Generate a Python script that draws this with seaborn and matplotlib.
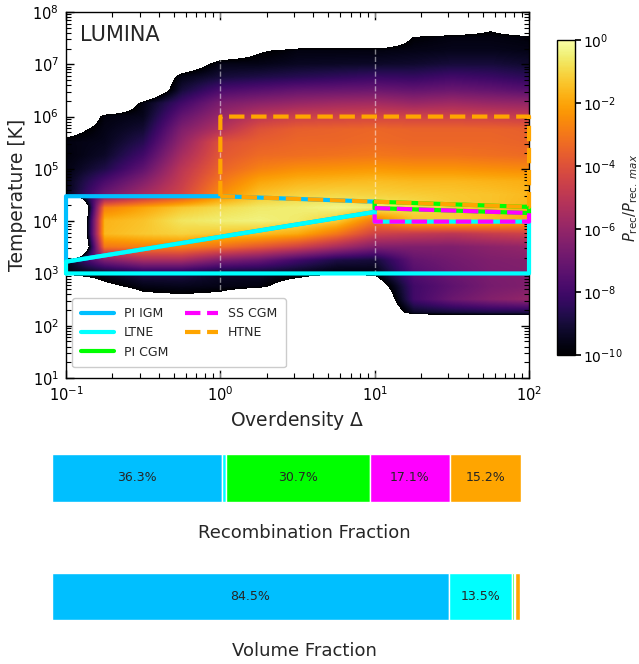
import numpy as np
import matplotlib
matplotlib.use("Agg")
import matplotlib.pyplot as plt
import seaborn as sns

# ---- data ----
E = -12.0  # empty bin (drawn white)

log_delta = [-1.0, -0.75, -0.5, -0.25, 0.0, 0.25, 0.5, 0.75, 1.0, 1.25, 1.5, 1.75, 2.0]
log_temp = [7.75, 7.5, 7.25, 7.0, 6.75, 6.5, 6.25, 6.0, 5.75, 5.5, 5.25, 5.0,
            4.75, 4.5, 4.25, 4.0, 3.75, 3.5, 3.25, 3.0, 2.75, 2.5, 2.25, 2.0]

# log10(P_rec / P_rec,max), rows = log_temp (top -> bottom), cols = log_delta
log_prec = [
    [E, E, E, E, E, E, E, E, E, -11.5, -11.3, -10.3, -11.5],
    [E, E, E, E, E, E, -11.5, -11.5, -11.5, -9.9, -9.7, -9.7, -9.8],
    [E, E, E, E, -11.0, -10.1, -9.7, -9.7, -9.7, -9.6, -9.5, -9.5, -9.6],
    [E, E, E, -11.0, -9.6, -9.6, -9.4, -9.35, -9.3, -9.2, -9.0, -9.0, -9.2],
    [E, E, E, -9.6, -9.0, -8.8, -8.6, -8.4, -8.2, -8.3, -8.0, -8.2, -8.5],
    [E, E, E, -9.0, -7.8, -7.5, -7.2, -7.1, -7.0, -7.2, -7.0, -7.2, -7.5],
    [E, E, -9.7, -8.0, -6.6, -6.2, -5.9, -5.7, -5.6, -5.9, -5.7, -5.9, -6.0],
    [E, -9.75, -9.5, -7.2, -5.9, -5.0, -4.6, -4.5, -4.4, -4.5, -4.5, -4.6, -4.8],
    [-10.5, -9.6, -9.1, -6.5, -5.2, -4.0, -3.6, -3.5, -3.4, -3.5, -3.5, -3.5, -3.6],
    [-9.7, -9.5, -8.6, -6.0, -4.0, -3.6, -3.4, -3.4, -3.3, -3.4, -3.4, -3.4, -3.5],
    [-9.8, -9.3, -8.0, -5.5, -3.8, -3.3, -3.2, -3.1, -3.0, -3.1, -3.1, -3.2, -3.3],
    [-9.7, -8.8, -7.3, -5.0, -3.5, -2.8, -2.5, -2.4, -2.3, -2.4, -2.4, -2.5, -2.6],
    [-9.6, -7.8, -6.4, -4.7, -3.0, -2.0, -1.7, -1.6, -1.5, -1.6, -1.6, -1.7, -1.8],
    [-9.7, -7.0, -5.6, -4.4, -2.5, -1.4, -1.1, -1.0, -1.1, -1.2, -1.3, -1.4, -1.6],
    [-20.0, -2.8, -2.0, -1.3, -0.9, -0.6, -0.5, -0.3, -0.5, -0.8, -1.2, -1.4, -1.7],
    [-20.0, -1.7, -1.4, -0.7, -0.5, -0.4, -0.6, -1.2, -3.0, -1.5, -1.2, -1.5, -2.0],
    [-20.0, -1.6, -1.3, -1.1, -1.3, -1.5, -1.9, -3.0, -4.5, -4.8, -5.0, -4.7, -4.5],
    [-20.0, -3.0, -2.8, -2.7, -3.2, -3.8, -4.5, -5.5, -6.5, -6.5, -6.5, -6.2, -6.0],
    [-9.7, -6.5, -5.5, -5.5, -6.5, -7.0, -8.0, -8.8, -9.0, -7.2, -6.8, -6.5, -6.4],
    [-9.7, -9.4, -8.8, -8.8, -9.3, -9.3, -9.5, -9.8, -9.7, -7.6, -7.0, -6.6, -6.5],
    [E, -10.3, -9.6, -9.5, -9.6, -9.7, -10.8, E, -11.0, -8.0, -7.3, -6.7, -6.5],
    [E, E, -10.5, -10.3, -10.5, E, E, E, E, -8.0, -7.0, -6.4, -6.0],
    [E, E, E, E, E, E, E, E, E, -9.3, -9.0, -8.8, -8.8],
    [E, E, E, E, E, E, E, E, E, -14.0, -14.0, -14.0, -14.0],
]

region_names = ["PI IGM", "LTNE", "PI CGM", "SS CGM", "HTNE"]
region_colors = ["deepskyblue", "cyan", "lime", "magenta", "orange"]
region_styles = ["-", "-", "-", "--", "--"]

# region boundaries (overdensity, temperature [K])
pi_igm_delta = [0.1, 0.1, 1, 10, 10, 0.1]
pi_igm_temp = [1.68e3, 3e4, 3e4, 2.36e4, 1.5e4, 1.68e3]
ltne_delta = [0.1, 100, 100, 10, 10, 0.1, 0.1]
ltne_temp = [1e3, 1e3, 9.8e3, 9.8e3, 1.5e4, 1.68e3, 1e3]
pi_cgm_delta = [10, 100, 100, 10, 10]
pi_cgm_temp = [2.36e4, 1.87e4, 1.43e4, 1.78e4, 2.36e4]
ss_cgm_delta = [10, 100, 100, 10, 10]
ss_cgm_temp = [1.78e4, 1.43e4, 9.8e3, 9.8e3, 1.78e4]
htne_delta = [1, 1, 100, 100, 10, 1]
htne_temp = [3e4, 1e6, 1e6, 1.87e4, 2.36e4, 3e4]

# percentages, same order as region_names
recomb_frac = [36.3, 0.7, 30.7, 17.1, 15.2]
volume_frac = [84.5, 13.5, 0.4, 0.3, 1.1]

# ---- style ----
sns.set_theme(style="ticks", rc={
    "axes.edgecolor": "black",
    "axes.linewidth": 1.0,
    "xtick.color": "black",
    "ytick.color": "black",
})
plt.rcParams["font.family"] = ["DejaVu Sans"]

fig = plt.figure(figsize=(6.39, 6.64), dpi=100)
ax = fig.add_axes([0.1033, 0.4307, 0.7246, 0.5512])

cmap = sns.color_palette("inferno", as_cmap=True).copy()
cmap.set_under("white")

dx = (log_delta[1] - log_delta[0]) / 2
dy = (log_temp[0] - log_temp[1]) / 2
im = ax.imshow(np.array(log_prec), cmap=cmap, vmin=-10, vmax=0,
               origin="upper", aspect="auto", interpolation="bilinear",
               interpolation_stage="data",
               extent=[log_delta[0] - dx, log_delta[-1] + dx,
                       log_temp[-1] - dy, log_temp[0] + dy])

# vertical guides
for xv in [0, 1]:
    ax.axvline(xv, color="white", alpha=0.5, ls="--", lw=1, zorder=1.5)

bounds = [(pi_igm_delta, pi_igm_temp), (ltne_delta, ltne_temp),
          (pi_cgm_delta, pi_cgm_temp), (ss_cgm_delta, ss_cgm_temp),
          (htne_delta, htne_temp)]
for (d, t), name, c, ls in zip(bounds, region_names, region_colors, region_styles):
    ax.plot(np.log10(d), np.log10(t), color=c, ls=ls, lw=3, label=name,
            clip_on=False, zorder=3)

ax.set_xlim(-1, 2)
ax.set_ylim(1, 8)
ax.set_xticks([-1, 0, 1, 2])
ax.set_xticklabels([r"$10^{-1}$", r"$10^{0}$", r"$10^{1}$", r"$10^{2}$"])
ax.set_yticks(range(1, 9))
ax.set_yticklabels([rf"$10^{{{k}}}$" for k in range(1, 9)])
ax.set_xticks([n + np.log10(k) for n in range(-1, 2) for k in range(2, 10)], minor=True)
ax.set_yticks([n + np.log10(k) for n in range(1, 8) for k in range(2, 10)], minor=True)
ax.tick_params(which="both", direction="in", top=True, right=True, labelsize=10.5)
ax.tick_params(which="major", length=6, width=1)
ax.tick_params(which="minor", length=3.5, width=0.8)
ax.tick_params(axis="x", which="major", pad=5)
ax.tick_params(axis="y", which="major", pad=5)
ax.set_xlabel(r"Overdensity $\Delta$", fontsize=13.5)
ax.set_ylabel("Temperature [K]", fontsize=13.5)
ax.text(0.03, 0.965, "LUMINA", transform=ax.transAxes, fontsize=15,
        ha="left", va="top")

ax.legend(loc="lower left", ncol=2, fontsize=9, handlelength=2.6,
          bbox_to_anchor=(0.0, 0.012), borderaxespad=0.5, borderpad=0.7,
          columnspacing=1.4, framealpha=1)

# colorbar
cax = fig.add_axes([0.8717, 0.4654, 0.0282, 0.4744])
cb = fig.colorbar(im, cax=cax)
cb.set_ticks([-10, -8, -6, -4, -2, 0])
cb.set_ticklabels([rf"$10^{{{k}}}$" for k in [-10, -8, -6, -4, -2, 0]])
cb.ax.tick_params(labelsize=10, direction="out", length=4, pad=2)
cb.outline.set_edgecolor("black")
cb.set_label(r"$P_{\rm rec}/P_{{\rm rec.}\ max}$", fontsize=10.5)
cb.ax.yaxis.set_label_coords(3.55, 0.5)


def draw_fraction_bar(bar_ax, fractions, label):
    left = 0.0
    for frac, color in zip(fractions, region_colors):
        w = frac / 100.0
        bar_ax.barh(0, w, left=left, height=1.0, color=color,
                    edgecolor="white", linewidth=1)
        if frac > 5:
            bar_ax.text(left + w / 2, 0, f"{frac:.1f}%", ha="center",
                        va="center", fontsize=9)
        left += w
    bar_ax.set_xlim(0, 1.076)
    bar_ax.set_ylim(-0.5, 0.5)
    bar_ax.set_xticks([])
    bar_ax.set_yticks([])
    sns.despine(ax=bar_ax, left=True, bottom=True)
    bar_ax.set_xlabel(label, fontsize=13, labelpad=16)


ax_rec = fig.add_axes([0.0814, 0.2440, 0.7903, 0.0723])
draw_fraction_bar(ax_rec, recomb_frac, "Recombination Fraction")
ax_vol = fig.add_axes([0.0814, 0.0663, 0.7903, 0.0708])
draw_fraction_bar(ax_vol, volume_frac, "Volume Fraction")

fig.savefig("out.png", dpi=100)
